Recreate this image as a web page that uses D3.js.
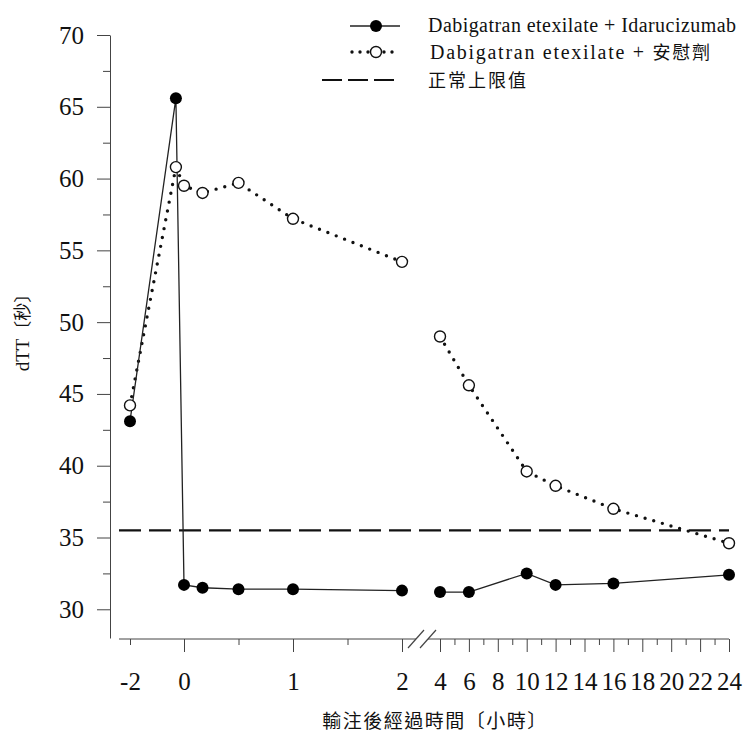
<!DOCTYPE html>
<html>
<head>
<meta charset="utf-8">
<script src="https://cdn.jsdelivr.net/npm/d3@7"></script>
<style>
  body { margin: 0; background: #fff; }
  #chart { width: 744px; height: 735px; }
  text { font-family: "Liberation Serif", "Times New Roman", serif; fill: #111; }
  .cjk { font-family: "Noto Sans CJK TC", "Noto Sans CJK SC", sans-serif; }
</style>
</head>
<body>
<div id="chart"></div>
<script>
// hours after infusion; -2 is the baseline sample, -0.3 the end of the dabigatran dose
const timeHours = [-2, -0.3, 0, 0.17, 0.5, 1, 2, 4, 6, 10, 12, 16, 24];
const idarucizumabValues = [43.1, 65.6, 31.7, 31.5, 31.4, 31.4, 31.3, 31.2, 31.2, 32.5, 31.7, 31.8, 32.4];
const placeboValues = [44.2, 60.8, 59.5, 59.0, 59.7, 57.2, 54.2, 49.0, 45.6, 39.6, 38.6, 37.0, 34.6];
const normalUpperLimit = 35.5;

const seriesNames = ['Dabigatran etexilate + Idarucizumab', 'Dabigatran etexilate + ', '正常上限值'];
const placeboLabelCjk = '安慰劑';

const yTicks = [30, 35, 40, 45, 50, 55, 60, 65, 70];
const yMinorTicks = [32.5, 37.5, 42.5, 47.5, 52.5, 57.5, 62.5, 67.5];
const leftLabelTicks = [-2, 0, 1, 2];
const leftMajorTicks = [0, 1, 2];
const leftMinorTicks = [-2, 0.5, 1.5];
const rightLabelTicks = [4, 6, 8, 10, 12, 14, 16, 18, 20, 22, 24];
const rightMinorTicks = [5, 7, 9, 11, 13, 15, 17, 19, 21, 23];
const xTitle = '輸注後經過時間〔小時〕';

class DttChart {

    constructor(parentElement) {
        this.parentElement = d3.select(parentElement);
        this.width = 744;
        this.height = 735;
        this.render();
    }

    render() {
        const svg = this.parentElement.append('svg')
            .attr('width', this.width)
            .attr('height', this.height);

        const axisY = 639;
        const y = d3.scaleLinear().domain([28, 70]).range([638, 35]);
        // broken x axis: compressed baseline part, 0-2 h, then 4-24 h
        const xLeft = d3.scaleLinear().domain([-2, 0, 2]).range([130, 184, 402]);
        const xRight = d3.scaleLinear().domain([4, 24]).range([440, 729]);

        const points = timeHours.map((t, i) => ({
            t: t,
            right: t >= 4,
            ida: idarucizumabValues[i],
            pla: placeboValues[i]
        }));
        const px = d => d.right ? xRight(d.t) : xLeft(d.t);

        // y axis
        const yAxis = svg.append('g')
            .attr('transform', 'translate(110,0)')
            .call(d3.axisLeft(y).tickValues(yTicks).tickSize(13).tickSizeOuter(0).tickPadding(13));
        yAxis.selectAll('text').style('font-size', '25px');
        svg.append('g')
            .attr('transform', 'translate(110,0)')
            .call(d3.axisLeft(y).tickValues(yMinorTicks).tickSize(7).tickFormat(''))
            .select('.domain').remove();

        // x axis pieces
        const xg = svg.append('g').attr('transform', `translate(0,${axisY})`);
        xg.append('line').attr('x1', 119).attr('x2', 416).attr('stroke', '#444');
        xg.append('line').attr('x1', 428).attr('x2', xRight(24)).attr('stroke', '#444');
        [416, 428].forEach(cx => {
            xg.append('line')
                .attr('x1', cx - 8).attr('y1', 9)
                .attr('x2', cx + 8).attr('y2', -9)
                .attr('stroke', '#444').attr('stroke-width', 1.2);
        });

        const tickAxis = (scale, values, size) => g => g
            .call(d3.axisBottom(scale).tickValues(values).tickSize(size).tickFormat(''))
            .call(a => a.select('.domain').remove());
        xg.append('g').call(tickAxis(xLeft, leftMajorTicks, 13));
        xg.append('g').call(tickAxis(xLeft, leftMinorTicks, 6));
        xg.append('g').call(tickAxis(xRight, rightLabelTicks, 13));
        xg.append('g').call(tickAxis(xRight, rightMinorTicks, 6));

        const labelAxis = (scale, values) => g => g
            .call(d3.axisBottom(scale).tickValues(values).tickSize(0).tickPadding(33).tickFormat(d => String(d)))
            .call(a => a.select('.domain').remove())
            .call(a => a.selectAll('text').style('font-size', '25px'));
        xg.append('g').call(labelAxis(xLeft, leftLabelTicks));
        xg.append('g').call(labelAxis(xRight, rightLabelTicks));

        svg.selectAll('.tick line').attr('stroke', '#444');
        svg.selectAll('.domain').attr('stroke', '#444');
        svg.selectAll('.tick text').attr('fill', '#111');

        // normal upper limit
        svg.append('line')
            .attr('x1', 119).attr('x2', xRight(24))
            .attr('y1', y(normalUpperLimit)).attr('y2', y(normalUpperLimit))
            .attr('stroke', '#111').attr('stroke-width', 2.2)
            .attr('stroke-dasharray', '22,8');

        const lineIda = d3.line().x(px).y(d => y(d.ida));
        const linePla = d3.line().x(px).y(d => y(d.pla));
        const segments = [points.filter(d => !d.right), points.filter(d => d.right)];

        // placebo, dotted with open circles
        segments.forEach(seg => {
            svg.append('path')
                .attr('d', linePla(seg))
                .attr('fill', 'none')
                .attr('stroke', '#111')
                .attr('stroke-width', 3.4)
                .attr('stroke-linecap', 'round')
                .attr('stroke-dasharray', '0,9');
        });

        // idarucizumab, solid with filled circles
        segments.forEach(seg => {
            svg.append('path')
                .attr('d', lineIda(seg))
                .attr('fill', 'none')
                .attr('stroke', '#222')
                .attr('stroke-width', 1.3);
        });

        svg.append('g').selectAll('circle')
            .data(points)
            .enter().append('circle')
            .attr('cx', px)
            .attr('cy', d => y(d.pla))
            .attr('r', 5.5)
            .attr('fill', '#fff')
            .attr('stroke', '#111')
            .attr('stroke-width', 1.4);

        svg.append('g').selectAll('circle')
            .data(points)
            .enter().append('circle')
            .attr('cx', px)
            .attr('cy', d => y(d.ida))
            .attr('r', 6)
            .attr('fill', '#000');

        // legend
        const lg = svg.append('g');
        lg.append('line').attr('x1', 350).attr('x2', 400).attr('y1', 26).attr('y2', 26)
            .attr('stroke', '#222').attr('stroke-width', 1.3);
        lg.append('circle').attr('cx', 376).attr('cy', 26).attr('r', 6).attr('fill', '#000');

        lg.append('line').attr('x1', 352).attr('x2', 400).attr('y1', 52).attr('y2', 52)
            .attr('stroke', '#111').attr('stroke-width', 3.4)
            .attr('stroke-linecap', 'round').attr('stroke-dasharray', '0,8');
        lg.append('circle').attr('cx', 376).attr('cy', 52).attr('r', 5.5)
            .attr('fill', '#fff').attr('stroke', '#111').attr('stroke-width', 1.4);

        lg.append('line').attr('x1', 322).attr('x2', 394).attr('y1', 80).attr('y2', 80)
            .attr('stroke', '#111').attr('stroke-width', 2.2).attr('stroke-dasharray', '20,6');

        lg.append('text').attr('x', 428).attr('y', 32)
            .style('font-size', '20px')
            .attr('textLength', 308)
            .text(seriesNames[0]);
        const t2 = lg.append('text').attr('x', 430).attr('y', 59)
            .style('font-size', '20px')
            .attr('textLength', 280);
        t2.append('tspan').text(seriesNames[1]);
        t2.append('tspan').attr('class', 'cjk').style('font-size', '18px').text(placeboLabelCjk);
        lg.append('text').attr('class', 'cjk').attr('x', 428).attr('y', 87)
            .style('font-size', '18px')
            .attr('letter-spacing', '2px')
            .text(seriesNames[2]);

        // axis titles
        svg.append('text').attr('class', 'cjk')
            .attr('x', 435).attr('y', 728)
            .attr('text-anchor', 'middle')
            .style('font-size', '19px')
            .attr('letter-spacing', '1.5px')
            .text(xTitle);

        const yt = svg.append('text')
            .attr('transform', 'translate(29,328) rotate(-90)')
            .attr('text-anchor', 'middle')
            .style('font-size', '19px');
        yt.append('tspan').text('dTT');
        yt.append('tspan').attr('class', 'cjk').style('font-size', '18px').text('〔秒〕');
    }
}

new DttChart('#chart');
</script>
</body>
</html>
